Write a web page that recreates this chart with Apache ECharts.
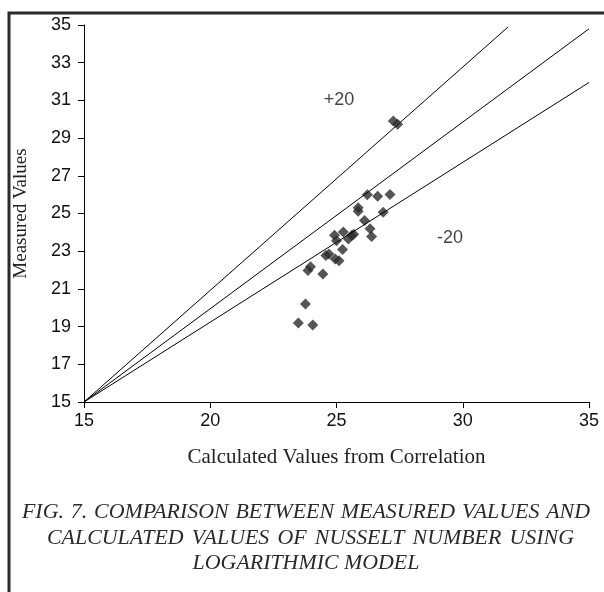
<!DOCTYPE html>
<html>
<head>
<meta charset="utf-8">
<script src="https://cdn.jsdelivr.net/npm/echarts@6/dist/echarts.min.js"></script>
<style>
html,body{margin:0;padding:0;background:#fff;}
#chart{width:604px;height:592px;}
</style>
</head>
<body>
<div id="chart"></div>
<script>
// ---- data ----
var calculated = [27.25, 27.42, 26.22, 26.63, 27.12, 25.86, 25.86, 26.85, 26.11, 25.27, 26.33, 26.39, 24.92, 25.00, 25.60, 25.47, 25.68, 25.24, 24.58, 24.70, 24.95, 25.10, 23.97, 23.87, 24.46, 23.77, 23.49, 24.06];
var measured   = [29.91, 29.73, 26.00, 25.92, 26.01, 25.30, 25.12, 25.07, 24.63, 24.02, 24.19, 23.78, 23.85, 23.56, 23.83, 23.65, 23.90, 23.09, 22.77, 22.85, 22.59, 22.50, 22.18, 21.98, 21.79, 20.20, 19.19, 19.08];

var upperLineX = [15, 31.8];
var upperLineY = [15, 34.9];
var equalLineX = [15, 35];
var equalLineY = [15, 34.8];
var lowerLineX = [15, 35];
var lowerLineY = [15, 31.95];

var bandLabels = ['+20', '-20'];
var bandLabelX = [25.1, 29.5];
var bandLabelY = [31.0, 23.7];

var xTicks = [15, 20, 25, 30, 35];
var yTicks = [15, 17, 19, 21, 23, 25, 27, 29, 31, 33, 35];

var xTitle = 'Calculated Values from Correlation';
var yTitle = 'Measured Values';
var captionLines = [
  'FIG. 7. COMPARISON BETWEEN MEASURED VALUES AND',
  'CALCULATED VALUES OF NUSSELT NUMBER USING',
  'LOGARITHMIC MODEL'
];

// ---- build ----
function zip(a, b) { return a.map(function (v, i) { return [v, b[i]]; }); }

var chart = echarts.init(document.getElementById('chart'), null, {renderer: 'canvas'});

var sansFont = "'Liberation Sans', Arial, sans-serif";
var serifFont = "'Liberation Serif', 'Times New Roman', serif";

// caption layout: size font so the first line fills its width, spread words across line extents
var measureCtx = document.createElement('canvas').getContext('2d');
measureCtx.font = 'italic 17px ' + serifFont;
var natural = measureCtx.measureText(captionLines[0]).width;
var capSize = Math.min(22, 17 * 560 / natural);
var captionFont = 'italic ' + capSize.toFixed(2) + 'px ' + serifFont;
measureCtx.font = captionFont;

var captionSpans = [[22, 590, 512], [47, 574, 538], [null, null, 563]];
var captionGraphics = [];
captionLines.forEach(function (line, li) {
  var span = captionSpans[li];
  if (span[0] === null) {
    captionGraphics.push({
      type: 'text', x: 306, y: span[2],
      style: {text: line, font: captionFont, fill: '#2a2a2a', align: 'center', verticalAlign: 'middle'}
    });
    return;
  }
  var words = line.split(' ');
  var widths = words.map(function (w) { return measureCtx.measureText(w).width; });
  var total = widths.reduce(function (s, w) { return s + w; }, 0);
  var gap = (span[1] - span[0] - total) / (words.length - 1);
  var x = span[0];
  words.forEach(function (w, i) {
    captionGraphics.push({
      type: 'text', x: x, y: span[2],
      style: {text: w, font: captionFont, fill: '#2a2a2a', verticalAlign: 'middle'}
    });
    x += widths[i] + gap;
  });
});

var option = {
  animation: false,
  backgroundColor: '#fff',
  grid: {left: 84, right: 15, top: 25, bottom: 190, containLabel: false},
  xAxis: {
    type: 'value', min: 15, max: 35, interval: 5,
    name: xTitle, nameLocation: 'middle', nameGap: 45,
    nameTextStyle: {fontFamily: serifFont, fontSize: 21, color: '#222'},
    axisLine: {show: true, onZero: false, lineStyle: {color: '#000', width: 1}},
    axisTick: {show: true, inside: false, length: 6, lineStyle: {color: '#000'}},
    axisLabel: {fontFamily: sansFont, fontSize: 18, color: '#111', margin: 10},
    splitLine: {show: false}
  },
  yAxis: {
    type: 'value', min: 15, max: 35,
    name: yTitle, nameLocation: 'middle', nameGap: 53, nameRotate: 90,
    nameTextStyle: {fontFamily: serifFont, fontSize: 19, color: '#222'},
    axisLine: {show: true, onZero: false, lineStyle: {color: '#000', width: 1}},
    axisTick: {show: true, inside: false, length: 6, lineStyle: {color: '#000'}, customValues: yTicks},
    axisLabel: {fontFamily: sansFont, fontSize: 18, color: '#111', margin: 13, customValues: yTicks},
    splitLine: {show: false}
  },
  series: [
    {type: 'line', data: zip(upperLineX, upperLineY), symbol: 'none', silent: true,
     lineStyle: {color: '#000', width: 1}},
    {type: 'line', data: zip(equalLineX, equalLineY), symbol: 'none', silent: true,
     lineStyle: {color: '#000', width: 1}},
    {type: 'line', data: zip(lowerLineX, lowerLineY), symbol: 'none', silent: true,
     lineStyle: {color: '#000', width: 1}},
    {type: 'scatter', data: zip(calculated, measured), symbol: 'diamond', symbolSize: 11,
     itemStyle: {color: '#2b2b2b'}},
    {type: 'scatter', symbolSize: 0, silent: true,
     data: bandLabelX.map(function (x, i) { return {value: [x, bandLabelY[i]], name: bandLabels[i]}; }),
     label: {show: true, position: 'inside', formatter: '{b}', fontFamily: sansFont, fontSize: 18, color: '#111'}}
  ],
  graphic: [
    {type: 'rect', shape: {x: 9, y: 13, width: 620, height: 600},
     style: {fill: 'none', stroke: '#2a2a2a', lineWidth: 3}, silent: true}
  ].concat(captionGraphics)
};
chart.setOption(option);
</script>
</body>
</html>
